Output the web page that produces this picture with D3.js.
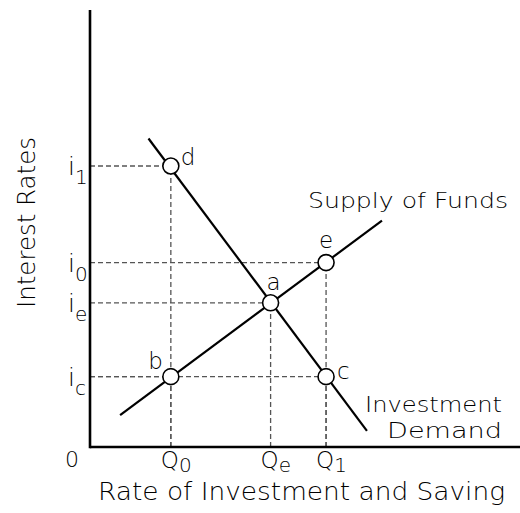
<!DOCTYPE html>
<html>
<head>
<meta charset="utf-8">
<script src="https://cdn.jsdelivr.net/npm/d3@7"></script>
<style>
  body { margin: 0; background: #fff; }
  svg { display: block; }
  text { font-family: "DejaVu Sans", sans-serif; font-weight: 200; fill: #000; }
</style>
</head>
<body>
<svg id="chart" width="520" height="513"></svg>
<script>
// curves, in chart units (x = rate of investment/saving, y = interest rate)
var supplyLine = [[0.70, 0.73], [6.79, 5.18]];
var demandLine = [[1.36, 7.06], [6.44, 0.37]];

// marked points
var pointNames = ['d', 'e', 'a', 'b', 'c'];
var pointX = [1.88, 5.49, 4.20, 1.88, 5.49];
var pointY = [6.43, 4.22, 3.30, 1.61, 1.61];

// tick labels
var rateSubs = ['1', '0', 'e', 'c'];
var rateValues = [6.43, 4.22, 3.30, 1.61];
var qtySubs = ['0', 'e', '1'];
var qtyValues = [1.88, 4.20, 5.49];

var svg = d3.select('#chart');

var x = d3.scaleLinear().domain([0, 10]).range([90, 520]);
var y = d3.scaleLinear().domain([0, 10]).range([447, 10]);

var points = pointNames.map(function (n, i) {
    return { name: n, x: pointX[i], y: pointY[i] };
});

// label placement next to each circle: [dx, dy, anchor]
var labelPos = {
    d: [10, -1, 'start'],
    e: [0, -15, 'middle'],
    a: [3, -13, 'middle'],
    b: [-8, -8, 'end'],
    c: [11, 2, 'start']
};

// dashed guides, drawn from the axis outward so dashes line up
var guides = svg.append('g')
    .attr('stroke', '#555')
    .attr('stroke-width', 1.3)
    .attr('stroke-dasharray', '5,3')
    .attr('fill', 'none');

guides.selectAll('line.h')
    .data(points)
    .enter()
    .append('line')
    .attr('class', 'h')
    .attr('x1', x(0))
    .attr('x2', function (d) { return x(d.x); })
    .attr('y1', function (d) { return y(d.y); })
    .attr('y2', function (d) { return y(d.y); });

guides.selectAll('line.v')
    .data(points)
    .enter()
    .append('line')
    .attr('class', 'v')
    .attr('x1', function (d) { return x(d.x); })
    .attr('x2', function (d) { return x(d.x); })
    .attr('y1', y(0))
    .attr('y2', function (d) { return y(d.y); });

// curves
var line = d3.line()
    .x(function (d) { return x(d[0]); })
    .y(function (d) { return y(d[1]); });

svg.selectAll('path.curve')
    .data([supplyLine, demandLine])
    .enter()
    .append('path')
    .attr('class', 'curve')
    .attr('d', line)
    .attr('fill', 'none')
    .attr('stroke', '#000')
    .attr('stroke-width', 2.2);

// axes (plain lines, no ticks)
svg.append('line')
    .attr('x1', x(0)).attr('x2', x(0))
    .attr('y1', y(0) + 1.2).attr('y2', y(10))
    .attr('stroke', '#000').attr('stroke-width', 2.6);
svg.append('line')
    .attr('x1', x(0)).attr('x2', x(10))
    .attr('y1', y(0)).attr('y2', y(0))
    .attr('stroke', '#000').attr('stroke-width', 2.6);

// circles
var gs = svg.selectAll('g.pt')
    .data(points)
    .enter()
    .append('g')
    .attr('class', 'pt')
    .attr('transform', function (d) {
        return 'translate(' + x(d.x) + ',' + y(d.y) + ')';
    });

gs.append('circle')
    .attr('r', 8)
    .attr('fill', '#fff')
    .attr('stroke', '#000')
    .attr('stroke-width', 1.6);

gs.append('text')
    .style('font-size', '23px')
    .attr('x', function (d) { return labelPos[d.name][0]; })
    .attr('y', function (d) { return labelPos[d.name][1]; })
    .attr('text-anchor', function (d) { return labelPos[d.name][2]; })
    .text(function (d) { return d.name; });

// y tick labels: i with subscript
var rateTicks = svg.selectAll('text.rate')
    .data(rateValues)
    .enter()
    .append('text')
    .attr('class', 'rate')
    .style('font-size', '25px')
    .attr('x', 68)
    .attr('y', function (d) { return y(d) + 9; });
rateTicks.append('tspan').text('i');
rateTicks.append('tspan')
    .attr('dy', 9)
    .style('font-size', '20px')
    .text(function (d, i) { return rateSubs[i]; });

// x tick labels: Q with subscript
var qtyTicks = svg.selectAll('text.qty')
    .data(qtyValues)
    .enter()
    .append('text')
    .attr('class', 'qty')
    .style('font-size', '23px')
    .attr('x', function (d) { return x(d) - 10; })
    .attr('y', 468);
qtyTicks.append('tspan').text('Q');
qtyTicks.append('tspan')
    .attr('dy', 4)
    .style('font-size', '20px')
    .text(function (d, i) { return qtySubs[i]; });

svg.append('text')
    .style('font-size', '22px')
    .attr('x', 72).attr('y', 467)
    .attr('text-anchor', 'middle')
    .text('0');

// axis titles
svg.append('text')
    .style('font-size', '24px')
    .attr('x', 98).attr('y', 500)
    .attr('textLength', 407)
    .attr('lengthAdjust', 'spacingAndGlyphs')
    .text('Rate of Investment and Saving');

svg.append('text')
    .style('font-size', '24px')
    .attr('transform', 'translate(35,308) rotate(-90)')
    .attr('textLength', 171)
    .attr('lengthAdjust', 'spacingAndGlyphs')
    .text('Interest Rates');

// curve labels
svg.append('text')
    .style('font-size', '22px')
    .attr('x', 308).attr('y', 208)
    .attr('textLength', 200)
    .attr('lengthAdjust', 'spacingAndGlyphs')
    .text('Supply of Funds');

svg.append('text')
    .style('font-size', '22px')
    .attr('x', 365).attr('y', 412)
    .attr('textLength', 137)
    .attr('lengthAdjust', 'spacingAndGlyphs')
    .text('Investment');

svg.append('text')
    .style('font-size', '22px')
    .attr('x', 387).attr('y', 438)
    .attr('textLength', 115)
    .attr('lengthAdjust', 'spacingAndGlyphs')
    .text('Demand');
</script>
</body>
</html>
